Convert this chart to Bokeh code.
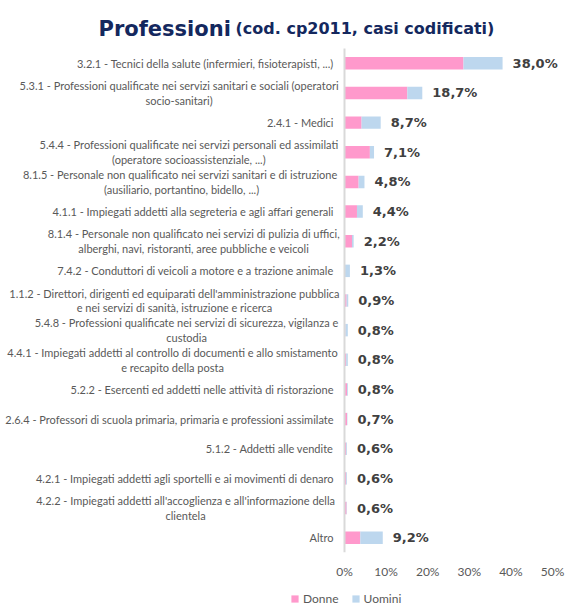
from bokeh.plotting import figure
from bokeh.layouts import column
from bokeh.models import (ColumnDataSource, Range1d, FixedTicker, Label, Legend,
                          LegendItem)
from bokeh.core.properties import value
from bokeh.embed import file_html
from bokeh.resources import INLINE

# --- data -----------------------------------------------------------------
codes = ["3.2.1", "5.3.1", "2.4.1", "5.4.4", "8.1.5", "4.1.1", "8.1.4", "7.4.2",
         "1.1.2", "5.4.8", "4.4.1", "5.2.2", "2.6.4", "5.1.2", "4.2.1", "4.2.2",
         "Altro"]

descriptions = [
    "3.2.1 - Tecnici della salute (infermieri, fisioterapisti, ...)",
    "5.3.1 - Professioni qualificate nei servizi sanitari e sociali (operatori\nsocio-sanitari)",
    "2.4.1 - Medici",
    "5.4.4 - Professioni qualificate nei servizi personali ed assimilati\n(operatore socioassistenziale, ...)",
    "8.1.5 - Personale non qualificato nei servizi  sanitari e di istruzione\n(ausiliario, portantino, bidello, ...)",
    "4.1.1 - Impiegati addetti alla segreteria e agli affari generali",
    "8.1.4 - Personale non qualificato nei servizi di pulizia di uffici,\nalberghi, navi, ristoranti, aree pubbliche e veicoli",
    "7.4.2 - Conduttori di veicoli a motore e a trazione animale",
    "1.1.2 - Direttori, dirigenti ed equiparati dell'amministrazione pubblica\ne nei servizi di sanità, istruzione e ricerca",
    "5.4.8 - Professioni qualificate nei servizi di sicurezza, vigilanza e\ncustodia",
    "4.4.1 - Impiegati addetti al controllo di documenti e allo smistamento\ne recapito della posta",
    "5.2.2 - Esercenti ed addetti nelle attività di ristorazione",
    "2.6.4 - Professori di scuola primaria, primaria e professioni assimilate",
    "5.1.2 - Addetti alle vendite",
    "4.2.1 - Impiegati addetti agli sportelli e ai movimenti di denaro",
    "4.2.2 - Impiegati addetti all'accoglienza e all'informazione della\nclientela",
    "Altro",
]

donne = [28.6, 15.1, 4.1, 6.1, 3.4, 3.0, 1.8, 0.1, 0.5, 0.2, 0.4, 0.6, 0.6, 0.4, 0.4, 0.5, 3.8]
uomini = [9.4, 3.6, 4.6, 1.0, 1.4, 1.4, 0.4, 1.2, 0.4, 0.6, 0.4, 0.2, 0.1, 0.2, 0.2, 0.1, 5.4]

series_names = ["Donne", "Uomini"]
tick_values = [0, 10, 20, 30, 40, 50]
tick_labels = ["0%", "10%", "20%", "30%", "40%", "50%"]

# --- styling --------------------------------------------------------------
PINK = "#FF99CC"
BLUE = "#BDD7EE"
NAVY = "#14285E"
LABEL_GREY = "#595959"
VALUE_GREY = "#404040"
CAT_FONT = "Lato"
CAT_SIZE = 11.0

W = 571
MAIN_H, LEGEND_H = 582, 28
BOTTOM, RIGHT = 30, 11
PLOT_TOP = 48            # pixel where the first bar row begins
ZERO_PX = 344            # horizontal pixel of the 0% line
PX_PER_UNIT = 4.16       # pixels per percentage point

frame_w = W - RIGHT
frame_h = MAIN_H - BOTTOM
n = len(codes)
row_px = (frame_h - PLOT_TOP) / n

x_start = -ZERO_PX / PX_PER_UNIT
x_end = (frame_w - ZERO_PX) / PX_PER_UNIT
y_start = -0.5
y_end = y_start + frame_h / row_px


def approx_width(s, px):
    """Rough advance width of a string set in Lato."""
    total = 0.0
    for ch in s:
        if ch in "il.,:;'j!|":
            total += 0.23
        elif ch in "ftr()-[]":
            total += 0.34
        elif ch == " ":
            total += 0.20
        elif ch in "scz":
            total += 0.43
        elif ch == "m":
            total += 0.84
        elif ch == "w":
            total += 0.74
        elif ch.isdigit():
            total += 0.58
        elif ch.isupper():
            total += 0.62
        else:
            total += 0.53
    return total * px


rows = [n - 1 - i for i in range(n)]          # first category on top
totals = [d + u for d, u in zip(donne, uomini)]
value_text = [f"{t:.1f}".replace(".", ",") + "%" for t in totals]

src = ColumnDataSource(dict(row=rows, code=codes, Donne=donne, Uomini=uomini,
                            total=totals, vtext=value_text))

# category captions: single line right-aligned, wrapped ones centred as a block
single = dict(row=[], text=[])
multi = dict(row=[], text=[], xoff=[])
for r, d in zip(rows, descriptions):
    if "\n" in d:
        wmax = max(approx_width(line, CAT_SIZE) for line in d.split("\n"))
        multi["row"].append(r)
        multi["text"].append(d)
        multi["xoff"].append(-11 - wmax / 2)
    else:
        single["row"].append(r)
        single["text"].append(d)

p = figure(width=W, height=MAIN_H, output_backend="svg", toolbar_location=None,
           x_range=Range1d(x_start, x_end), y_range=Range1d(y_start, y_end),
           y_axis_location=None,
           min_border_left=0, min_border_right=RIGHT,
           min_border_top=0, min_border_bottom=BOTTOM)
p.outline_line_color = None
p.xgrid.visible = False
p.ygrid.visible = False

renderers = p.hbar_stack(series_names, y="row", height=0.42, color=[PINK, BLUE],
                         line_color=None, source=src)

# vertical baseline at 0% spanning the category rows
p.segment(x0=[0], y0=[y_start], x1=[0], y1=[n - 0.5],
          line_color="#D9D9D9", line_width=2)

# value labels
p.text(x="total", y="row", text="vtext", source=src, x_offset=10,
       text_baseline="middle", text_align="left",
       text_font=value("DejaVu Sans"), text_font_style="bold",
       text_font_size="13px", text_color=VALUE_GREY)

# category captions
p.text(x=0, y="row", text="text", source=ColumnDataSource(single), x_offset=-11,
       text_baseline="middle", text_align="right",
       text_font=value(CAT_FONT), text_font_size=f"{CAT_SIZE}px",
       text_color=LABEL_GREY)
p.text(x=0, y="row", text="text", source=ColumnDataSource(multi), x_offset="xoff",
       text_baseline="middle", text_align="center", text_line_height=1.12,
       text_font=value(CAT_FONT), text_font_size=f"{CAT_SIZE}px",
       text_color=LABEL_GREY)

# x axis
ax = p.xaxis[0]
ax.ticker = FixedTicker(ticks=tick_values)
ax.major_label_overrides = {v: t for v, t in zip(tick_values, tick_labels)}
ax.axis_line_color = None
ax.major_tick_line_color = None
ax.minor_tick_line_color = None
ax.major_tick_out = 0
ax.major_tick_in = 0
ax.major_label_standoff = 11
ax.major_label_text_font = CAT_FONT
ax.major_label_text_font_size = "12px"
ax.major_label_text_color = LABEL_GREY

# title in two sizes (inside the frame, above the rows)
title_y = frame_h - 28
p.add_layout(Label(x=98, y=title_y, x_units="screen", y_units="screen",
                   text="Professioni", text_font="DejaVu Sans", text_font_style="bold",
                   text_font_size="21px", text_color=NAVY, text_baseline="alphabetic"))
p.add_layout(Label(x=235, y=title_y, x_units="screen", y_units="screen",
                   text="(cod. cp2011, casi codificati)", text_font="DejaVu Sans",
                   text_font_style="bold", text_font_size="16px", text_color=NAVY,
                   text_baseline="alphabetic"))

# legend strip under the chart, keyed with the same bar styles
leg = figure(width=W, height=LEGEND_H, output_backend="svg", toolbar_location=None,
             x_axis_location=None, y_axis_location=None,
             x_range=Range1d(0, 1), y_range=Range1d(0, 1),
             min_border_left=0, min_border_right=0, min_border_top=0, min_border_bottom=0)
leg.outline_line_color = None
leg.xgrid.visible = False
leg.ygrid.visible = False
# zero-length keys placed outside the visible range; only their swatches are used
keys = [leg.hbar(y=[-5], left=[0], right=[0], height=0.5, color=c, line_color=None)
        for c in (PINK, BLUE)]
legend = Legend(items=[LegendItem(label=nm, renderers=[r]) for nm, r in zip(series_names, keys)],
                orientation="horizontal", location=(290, 4),
                glyph_width=9, glyph_height=9, label_standoff=4, spacing=12,
                padding=0, margin=0, border_line_color=None, background_fill_alpha=0,
                label_text_font=CAT_FONT, label_text_font_size="12px",
                label_text_color=LABEL_GREY, label_height=12)
leg.add_layout(legend, "center")

page = column(p, leg, spacing=0)
open("out.html", "w").write(file_html(page, INLINE))
